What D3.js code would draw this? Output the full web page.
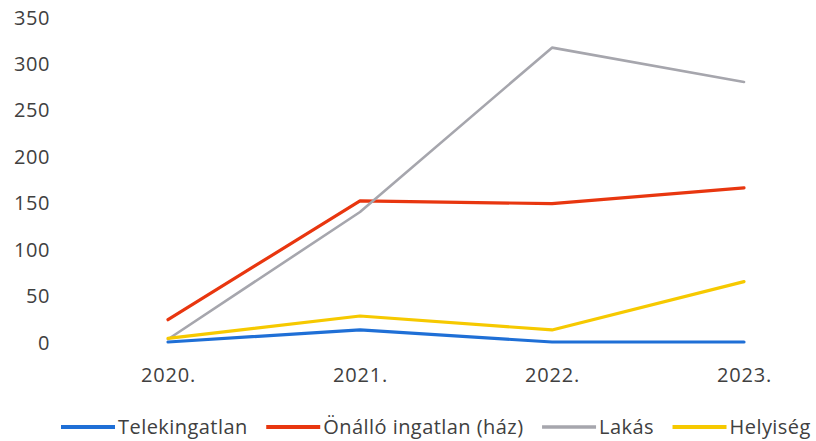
<!DOCTYPE html>
<html>
<head>
<meta charset="utf-8">
<script src="https://cdn.jsdelivr.net/npm/d3@7"></script>
<style>
  html, body { margin: 0; padding: 0; background: #fff; }
  svg { display: block; }
  text { font-family: "Open Sans", sans-serif; fill: #404040; }
</style>
</head>
<body>
<svg id="chart" width="816" height="441"></svg>
<script>
const years = ["2020.", "2021.", "2022.", "2023."];
const seriesNames = ["Telekingatlan", "Önálló ingatlan (ház)", "Lakás", "Helyiség"];
const telekingatlan = [0, 13, 0, 0];
const onallo = [24, 152, 149, 166];
const lakas = [3, 140, 317, 280];
const helyiseg = [4, 28, 13, 65];
const yTicks = [0, 50, 100, 150, 200, 250, 300, 350];
const colors = ["#1f6fd6", "#e8360f", "#a6a6ad", "#f6c900"];
const widths = [3.2, 3.2, 2.6, 3.2];

const seriesData = [telekingatlan, onallo, lakas, helyiseg];

const svg = d3.select("#chart");
const x = d3.scalePoint().domain(years).range([168, 744]);
const y = d3.scaleLinear().domain([0, 350]).range([342, 17]);

// Y axis (labels only)
const yAxis = d3.axisLeft(y).tickValues(yTicks).tickSize(0).tickPadding(0);
const yg = svg.append("g").attr("transform", "translate(50,0)").call(yAxis);
yg.select(".domain").remove();
yg.selectAll("text").style("font-size", "20px").style("letter-spacing", "0.6px")
  .attr("fill", "#404040").style("font-family", '"Open Sans", sans-serif').attr("dy", "0.35em");

// X axis (labels only)
const xAxis = d3.axisBottom(x).tickSize(0).tickPadding(0);
const xg = svg.append("g").attr("transform", "translate(0,375)").call(xAxis);
xg.select(".domain").remove();
xg.selectAll("text").style("font-size", "20px").style("letter-spacing", "0.8px")
  .attr("fill", "#404040").style("font-family", '"Open Sans", sans-serif').attr("dy", "0.35em");

// Lines
const line = d3.line().x((d, i) => x(years[i])).y(d => y(d));
seriesData.forEach((s, k) => {
  svg.append("path")
    .datum(s)
    .attr("fill", "none")
    .attr("stroke", colors[k])
    .attr("stroke-width", widths[k])
    .attr("stroke-linejoin", "round")
    .attr("stroke-linecap", "round")
    .attr("d", line);
});

// Legend
const legend = svg.append("g").attr("transform", "translate(0,427)");
let cx = 61;
seriesNames.forEach((name, k) => {
  legend.append("line")
    .attr("x1", cx).attr("x2", cx + 54)
    .attr("y1", 0).attr("y2", 0)
    .attr("stroke", colors[k]).attr("stroke-width", widths[k] + 0.8);
  const t = legend.append("text")
    .attr("x", cx + 57).attr("y", 0).attr("dy", "0.35em")
    .style("font-size", "20px").style("letter-spacing", "0.45px")
    .text(name);
  const w = t.node().getComputedTextLength();
  cx = cx + 57 + w + 18.5;
});
</script>
</body>
</html>
